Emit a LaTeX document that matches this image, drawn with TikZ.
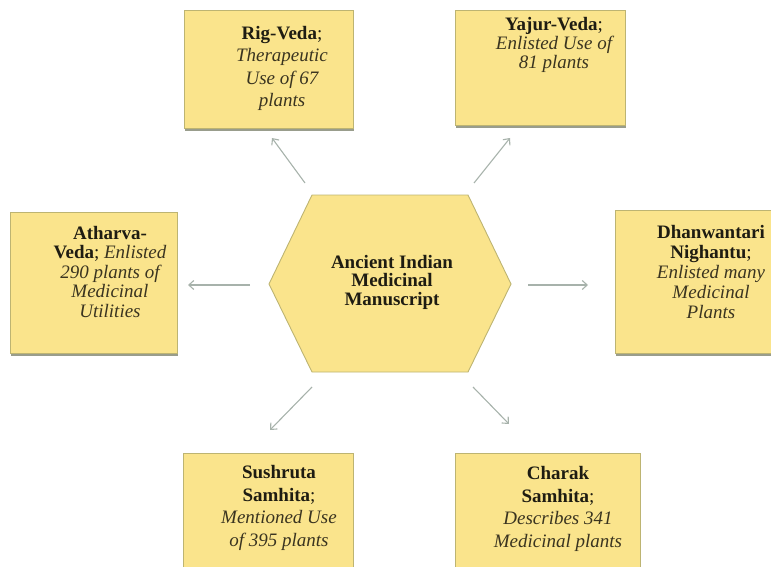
\documentclass[tikz,border=0pt]{standalone}
\usepackage{fontspec}
\setmainfont{Liberation Serif}
\usetikzlibrary{arrows.meta,shadows}
\definecolor{boxfill}{HTML}{FAE48C}
\definecolor{boxline}{HTML}{BDB472}
\definecolor{shadowc}{HTML}{8E9280}
\definecolor{arrowc}{HTML}{A7B2AB}
\definecolor{txtc}{HTML}{1E1C12}
\definecolor{itc}{HTML}{3A3420}
\tikzset{
  box/.style={draw=boxline, line width=0.8pt, fill=boxfill, inner sep=0pt,
    drop shadow={shadow xshift=1.2pt, shadow yshift=-2.6pt, fill=shadowc, opacity=0.9}},
  txt/.style={anchor=north, align=center, inner sep=0pt, text=txtc},
  conn/.style={draw=arrowc, line width=1.1pt, -{Straight Barb[length=5pt,width=9pt]}},
}
\newcommand{\itx}[1]{{\itshape\color{itc}#1}}
\begin{document}
\begin{tikzpicture}[x=1pt,y=-1pt]
\useasboundingbox (0,0) rectangle (771,567);
% boxes
\node[box, minimum width=169pt, minimum height=118pt] (rig) at (268.5,69) {};
\node[box, minimum width=170pt, minimum height=115pt] (yaj) at (540,67.5) {};
\node[box, minimum width=167pt, minimum height=141pt] (ath) at (93.5,282.5) {};
\node[box, minimum width=180pt, minimum height=143pt] (dha) at (705,281.5) {};
\node[box, minimum width=170pt, minimum height=130pt] (sus) at (268,518) {};
\node[box, minimum width=185pt, minimum height=130pt] (cha) at (547.5,518) {};
% hexagon
\coordinate (h1) at (312,195);
\coordinate (h2) at (468,195);
\coordinate (h3) at (511,284);
\coordinate (h4) at (468,372);
\coordinate (h5) at (312,372);
\coordinate (h6) at (269,284);
\filldraw[draw=boxline, line width=0.9pt, fill=boxfill] (h1) -- (h2) -- (h3) -- (h4) -- (h5) -- (h6) -- cycle;
% texts
\node[txt, font=\fontsize{19}{22.5}\selectfont] (rigt) at (282,26)
  {\textbf{Rig-Veda};\\ \itx{Therapeutic}\\ \itx{Use of 67}\\ \itx{plants}};
\node[txt, font=\fontsize{19}{19}\selectfont] (yajt) at (554,17)
  {\textbf{Yajur-Veda};\\ \itx{Enlisted Use of}\\ \itx{81 plants}};
\node[txt, font=\fontsize{19}{19.5}\selectfont] (atht) at (110,226)
  {\textbf{Atharva-}\\ \textbf{Veda}; \itx{Enlisted}\\ \itx{290 plants of}\\ \itx{Medicinal}\\ \itx{Utilities}};
\node[txt, font=\fontsize{19}{20}\selectfont] (dhat) at (711,225)
  {\textbf{Dhanwantari}\\ \textbf{Nighantu};\\ \itx{Enlisted many}\\ \itx{Medicinal}\\ \itx{Plants}};
\node[txt, font=\fontsize{19}{22.7}\selectfont] (sust) at (279,465)
  {\textbf{Sushruta}\\ \textbf{Samhita};\\ \itx{Mentioned Use}\\ \itx{of 395 plants}};
\node[txt, font=\fontsize{19}{22.7}\selectfont] (chat) at (558,466)
  {\textbf{Charak}\\ \textbf{Samhita};\\ \itx{Describes 341}\\ \itx{Medicinal plants}};
\node[txt, font=\fontsize{19}{18.5}\selectfont\bfseries] (hub) at (392,255)
  {Ancient Indian\\ Medicinal\\ Manuscript};
% connector ends
\coordinate (s1) at (305,183); \coordinate (e1) at (272,138);
\coordinate (s2) at (474,183); \coordinate (e2) at (510,138);
\coordinate (s3) at (250,285); \coordinate (e3) at (188,285);
\coordinate (s4) at (528,285); \coordinate (e4) at (588,285);
\coordinate (s5) at (312,387); \coordinate (e5) at (270,430);
\coordinate (s6) at (473,387); \coordinate (e6) at (509,424);
\draw[conn] (s1) -- (e1);
\draw[conn] (s2) -- (e2);
\draw[conn] (s3) -- (e3);
\draw[conn] (s4) -- (e4);
\draw[conn] (s5) -- (e5);
\draw[conn] (s6) -- (e6);
\end{tikzpicture}
\end{document}
